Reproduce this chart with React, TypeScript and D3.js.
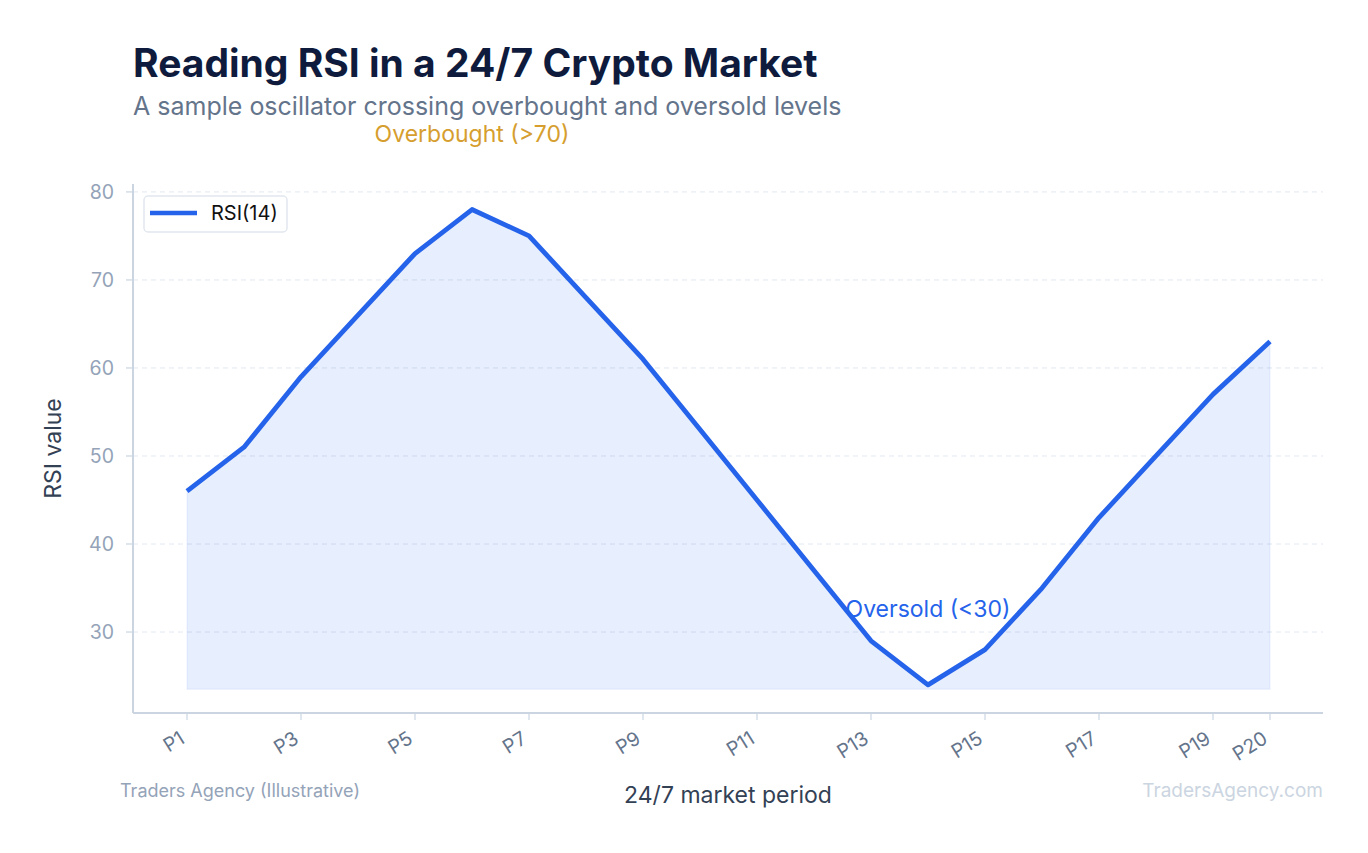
import * as React from 'react';
import * as d3 from 'd3';

const periods = d3.range(1, 21).map((i) => `P${i}`);
const rsiValues = [46, 51, 59, 66, 73, 78, 75, 68, 61, 53, 45, 37, 29, 24, 28, 35, 43, 50, 57, 63];
const yTicks = [30, 40, 50, 60, 70, 80];
const xTickLabels = ['P1', 'P3', 'P5', 'P7', 'P9', 'P11', 'P13', 'P15', 'P17', 'P19', 'P20'];

const W = 1368;
const H = 853;
const FONT = 'Inter, "Noto Sans", sans-serif';

const COLORS = {
  title: '#0f1b3d',
  subtitle: '#64748b',
  line: '#2563eb',
  grid: '#e2e8f0',
  axis: '#cbd5e1',
  tick: '#94a3b8',
  xTick: '#64748b',
  axisTitle: '#334155',
  overbought: '#d69e2e',
  footer: '#94a3b8',
  footerRight: '#cbd5e1',
};

export default function App() {
  React.useEffect(() => {
    document.body.style.margin = '0';
  }, []);

  const left = 133;
  const right = 1323;
  const top = 184;
  const bottom = 713;

  const x = d3.scalePoint<string>().domain(periods).range([187, 1270]);
  const y = d3.scaleLinear().domain([20.8, 80.9]).range([bottom, top]);

  const points = periods.map((p, i) => ({ p, v: rsiValues[i] }));
  const baseline = d3.min(rsiValues)! - 0.5;

  const line = d3
    .line<{ p: string; v: number }>()
    .x((d) => x(d.p)!)
    .y((d) => y(d.v));
  const area = d3
    .area<{ p: string; v: number }>()
    .x((d) => x(d.p)!)
    .y0(y(baseline))
    .y1((d) => y(d.v));

  const peak = points[5];
  const trough = points[13];

  return (
    <svg width={W} height={H} style={{ display: 'block', fontFamily: FONT }}>
      <rect width={W} height={H} fill="#fff" />
      <text x={133} y={77} fontSize={39} fontWeight={700} fill={COLORS.title}>
        Reading RSI in a 24/7 Crypto Market
      </text>
      <text x={133} y={115} fontSize={25} fill={COLORS.subtitle}>
        A sample oscillator crossing overbought and oversold levels
      </text>

      {/* grid */}
      {yTicks.map((t) => (
        <line
          key={t}
          x1={left}
          x2={right}
          y1={y(t)}
          y2={y(t)}
          stroke={COLORS.grid}
          strokeWidth={1}
          strokeDasharray="5 4"
        />
      ))}

      <path d={area(points) || ''} fill={COLORS.line} fillOpacity={0.11} stroke={COLORS.line} strokeOpacity={0.06} strokeWidth={1.5} />
      <path d={line(points) || ''} fill="none" stroke={COLORS.line} strokeWidth={4.8} strokeLinejoin="round" />

      {/* axes */}
      <line x1={left} x2={left} y1={top} y2={bottom} stroke={COLORS.axis} strokeWidth={2} />
      <line x1={left} x2={right} y1={bottom} y2={bottom} stroke={COLORS.axis} strokeWidth={2} />

      {yTicks.map((t) => (
        <g key={t} transform={`translate(0,${y(t)})`}>
          <line x1={left - 7} x2={left} stroke={COLORS.axis} strokeWidth={1.2} />
          <text x={left - 19} dy="0.35em" textAnchor="end" fontSize={19.5} fill={COLORS.tick}>
            {t}
          </text>
        </g>
      ))}

      {xTickLabels.map((t) => (
        <g key={t} transform={`translate(${x(t)},${bottom})`}>
          <line y1={0} y2={7} stroke={COLORS.axis} strokeWidth={1.2} />
          <text
            transform="translate(-1,29) rotate(-32)"
            textAnchor="end"
            fontSize={19.5}
            fill={COLORS.xTick}
          >
            {t}
          </text>
        </g>
      ))}

      <text
        transform={`translate(61,${(top + bottom) / 2}) rotate(-90)`}
        textAnchor="middle"
        fontSize={23}
        fill={COLORS.axisTitle}
      >
        RSI value
      </text>
      <text x={(left + right) / 2} y={803} textAnchor="middle" fontSize={23} fill={COLORS.axisTitle}>
        24/7 market period
      </text>

      {/* annotations */}
      <text x={x(peak.p)} y={y(peak.v) - 68} textAnchor="middle" fontSize={23} fill={COLORS.overbought}>
        Overbought (&gt;70)
      </text>
      <text x={x(trough.p)} y={y(trough.v) - 68} textAnchor="middle" fontSize={23} fill={COLORS.line}>
        Oversold (&lt;30)
      </text>

      {/* legend */}
      <g transform="translate(144,196)">
        <rect width={143} height={36} rx={4} fill="#fff" stroke={COLORS.grid} strokeWidth={1.5} />
        <line x1={6} x2={53} y1={17} y2={17} stroke={COLORS.line} strokeWidth={4.5} />
        <text x={67} y={17} dy="0.35em" fontSize={20} fill="#111">
          RSI(14)
        </text>
      </g>

      {/* footer */}
      <text x={120} y={797} fontSize={18} fill={COLORS.footer}>
        Traders Agency (Illustrative)
      </text>
      <text x={1323} y={797} textAnchor="end" fontSize={19} fill={COLORS.footerRight}>
        TradersAgency.com
      </text>
    </svg>
  );
}
